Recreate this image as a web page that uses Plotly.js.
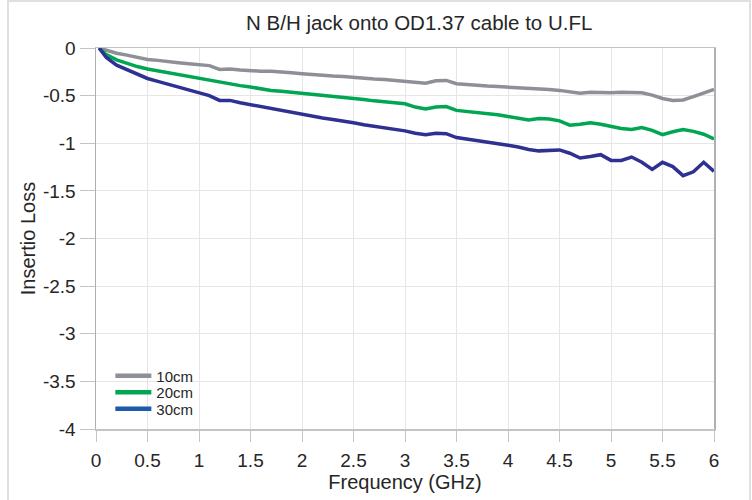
<!DOCTYPE html>
<html>
<head>
<meta charset="utf-8">
<script src="https://cdn.plot.ly/plotly-3.0.1.min.js"></script>
<style>
  html, body { margin: 0; padding: 0; background: #ffffff; }
  #chart { width: 752px; height: 500px; }
</style>
</head>
<body>
<div id="chart"></div>
<script>
const chartTitle = "N B/H jack onto OD1.37 cable to U.FL";
const xTitle = "Frequency (GHz)";
const yTitle = "Insertio Loss";
const seriesNames = ["10cm", "20cm", "30cm"];

const freqGHz = [0.03, 0.1, 0.2, 0.3, 0.4, 0.5, 0.6, 0.7, 0.8, 0.9,
  1.0, 1.1, 1.2, 1.3, 1.4, 1.5, 1.6, 1.7, 1.8, 1.9,
  2.0, 2.1, 2.2, 2.3, 2.4, 2.5, 2.6, 2.7, 2.8, 2.9,
  3.0, 3.1, 3.2, 3.3, 3.4, 3.5, 3.6, 3.7, 3.8, 3.9,
  4.0, 4.1, 4.2, 4.3, 4.4, 4.5, 4.6, 4.7, 4.8, 4.9,
  5.0, 5.1, 5.2, 5.3, 5.4, 5.5, 5.6, 5.7, 5.8, 5.9, 6.0];

const loss10cm = [0, -0.025, -0.055, -0.075, -0.1, -0.12, -0.13, -0.145, -0.155, -0.165,
  -0.175, -0.185, -0.225, -0.22, -0.23, -0.24, -0.245, -0.245, -0.25, -0.26,
  -0.27, -0.28, -0.285, -0.295, -0.3, -0.31, -0.315, -0.325, -0.33, -0.34,
  -0.35, -0.365, -0.37, -0.345, -0.34, -0.375, -0.385, -0.395, -0.4, -0.405,
  -0.41, -0.42, -0.425, -0.43, -0.435, -0.445, -0.46, -0.475, -0.465, -0.47,
  -0.47, -0.465, -0.465, -0.47, -0.495, -0.53, -0.55, -0.545, -0.51, -0.47, -0.435];

const loss20cm = [0, -0.07, -0.125, -0.16, -0.195, -0.22, -0.24, -0.26, -0.28, -0.3,
  -0.315, -0.335, -0.355, -0.38, -0.395, -0.41, -0.43, -0.445, -0.455, -0.465,
  -0.475, -0.485, -0.495, -0.51, -0.52, -0.53, -0.54, -0.555, -0.565, -0.575,
  -0.585, -0.62, -0.64, -0.62, -0.615, -0.655, -0.665, -0.675, -0.69, -0.7,
  -0.72, -0.74, -0.755, -0.74, -0.745, -0.765, -0.81, -0.8, -0.785, -0.8,
  -0.825, -0.845, -0.855, -0.835, -0.865, -0.91, -0.88, -0.855, -0.875, -0.905, -0.955];

const loss30cm = [0, -0.1, -0.18, -0.225, -0.275, -0.32, -0.35, -0.38, -0.41, -0.44,
  -0.465, -0.5, -0.55, -0.55, -0.575, -0.595, -0.615, -0.64, -0.66, -0.68,
  -0.7, -0.715, -0.735, -0.75, -0.765, -0.785, -0.805, -0.82, -0.835, -0.855,
  -0.87, -0.895, -0.91, -0.895, -0.9, -0.94, -0.955, -0.97, -0.985, -1.0,
  -1.02, -1.04, -1.065, -1.08, -1.075, -1.07, -1.105, -1.155, -1.14, -1.12,
  -1.18, -1.18, -1.145, -1.2, -1.275, -1.2, -1.245, -1.34, -1.3, -1.2, -1.295];

const xTicks = [0, 0.5, 1, 1.5, 2, 2.5, 3, 3.5, 4, 4.5, 5, 5.5, 6];
const yTicks = [0, -0.5, -1, -1.5, -2, -2.5, -3, -3.5, -4];

const lineColors = ["#8d9096", "#00a651", "#2e3192"];
const legendColors = ["#8d9096", "#00a651", "#1c5bab"];
const seriesData = [loss10cm, loss20cm, loss30cm];
const legendIds = ["legend", "legend2", "legend3"];
const legendTops = [0.1826, 0.1393, 0.096];

const traces = [];
seriesData.forEach((vals, i) => {
  traces.push({
    type: "scatter", mode: "lines",
    x: freqGHz, y: vals,
    name: seriesNames[i],
    showlegend: false,
    line: { color: lineColors[i], width: 3.5 },
    hoverinfo: "x+y+name"
  });
});
seriesNames.forEach((nm, i) => {
  traces.push({
    type: "scatter", mode: "lines",
    x: [null], y: [null],
    name: nm,
    legend: legendIds[i],
    showlegend: true,
    line: { color: legendColors[i], width: 4.5 }
  });
});

const fontFam = "Liberation Sans, Arial, Helvetica, sans-serif";

const layout = {
  width: 752, height: 500,
  margin: { l: 96, r: 38, t: 48, b: 71, pad: 0 },
  paper_bgcolor: "#ffffff",
  plot_bgcolor: "#ffffff",
  font: { family: fontFam, color: "#262626", size: 17 },
  title: {
    text: chartTitle,
    font: { family: fontFam, size: 20.5, color: "#262626" },
    xref: "paper", x: 0.523, xanchor: "center",
    yref: "container", y: 0.955, yanchor: "middle"
  },
  xaxis: {
    range: [0, 6],
    tickvals: xTicks,
    ticktext: xTicks.map(String),
    showgrid: true, gridcolor: "#e6e6e6", gridwidth: 1,
    zeroline: false,
    showline: true, linecolor: "#c4c4c4", linewidth: 1.5, mirror: true,
    ticks: "outside", ticklen: 11, tickcolor: "#c4c4c4", tickwidth: 1,
    ticklabelstandoff: 3,
    tickfont: { family: fontFam, size: 19, color: "#262626" },
    title: { text: xTitle, font: { family: fontFam, size: 20, color: "#262626" }, standoff: 0 }
  },
  yaxis: {
    range: [-4, 0],
    tickvals: yTicks,
    ticktext: yTicks.map(String),
    showgrid: true, gridcolor: "#e6e6e6", gridwidth: 1,
    zeroline: false,
    showline: true, linecolor: "#b0b0b0", linewidth: 1.5, mirror: true,
    ticks: "outside", ticklen: 15, tickcolor: "#c4c4c4", tickwidth: 1,
    tickfont: { family: fontFam, size: 19, color: "#262626" },
    title: { text: yTitle, font: { family: fontFam, size: 20, color: "#262626" }, standoff: 2 }
  },
  shapes: [{
    type: "rect", xref: "paper", yref: "paper",
    x0: -0.1424, x1: 1.0583, y0: -0.2, y1: 1.1234,
    line: { color: "#e0e0e0", width: 2 }, fillcolor: "rgba(0,0,0,0)", layer: "below"
  }]
};

legendIds.forEach((id, i) => {
  layout[id] = {
    x: 0.0232, xanchor: "left",
    y: legendTops[i], yanchor: "top",
    bgcolor: "rgba(0,0,0,0)",
    font: { family: fontFam, size: 15, color: "#262626" },
    itemwidth: 36
  };
});

Plotly.newPlot("chart", traces, layout, { displayModeBar: false, staticPlot: true });
</script>
</body>
</html>
